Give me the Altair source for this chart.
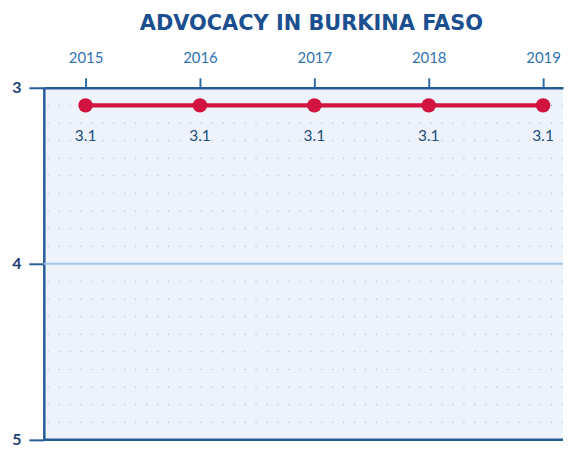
import altair as alt
import pandas as pd

# ---- data ----
years = [2015, 2016, 2017, 2018, 2019]
scores = [3.1, 3.1, 3.1, 3.1, 3.1]
score_labels = ["3.1", "3.1", "3.1", "3.1", "3.1"]
dotted_grid = [3.1, 3.2, 3.3, 3.4, 3.5, 3.6, 3.7, 3.8, 3.9,
               4.1, 4.2, 4.3, 4.4, 4.5, 4.6, 4.7, 4.8, 4.9]
mid_line = [4]
bottom_line = [5]

df = pd.DataFrame({"year": years, "score": scores, "label": score_labels})
grid_df = pd.DataFrame({"score": dotted_grid})
mid_df = pd.DataFrame({"score": mid_line})
bot_df = pd.DataFrame({"score": bottom_line})

DARK = "#275d97"
yscale = alt.Scale(domain=[3, 5], reverse=True, nice=False, zero=False)
xscale = alt.Scale(domain=[2014.635, 2019.174], nice=False, zero=False)

yaxis = alt.Axis(orient="left", tickCount=2, format="d", grid=False,
                 labelFontSize=16, labelFontWeight="bold", labelColor="#1d3f72",
                 labelFont="Lato", labelOverlap=False,
                 tickSize=15, tickWidth=2, tickColor=DARK,
                 domainColor=DARK, domainWidth=2.5, labelPadding=8)
yenc = alt.Y("score:Q", scale=yscale, title=None, axis=yaxis)

grid = alt.Chart(grid_df).mark_rule(strokeDash=[1.2, 9.8], color="#aab6c6", strokeWidth=1).encode(y=yenc)
mid = alt.Chart(mid_df).mark_rule(color="#a3c6e8", strokeWidth=2).encode(y=yenc)
bot = alt.Chart(bot_df).mark_rule(color=DARK, strokeWidth=2.5).encode(y=yenc)

base = alt.Chart(df).encode(
    x=alt.X("year:Q", scale=xscale, title=None,
            axis=alt.Axis(orient="top", values=years, format="d", grid=False,
                          labelFontSize=15, labelColor="#2f73b0", labelFont="Lato",
                          tickSize=10, tickWidth=2, tickColor="#2e6da4",
                          domainColor=DARK, domainWidth=2.5, labelPadding=12)),
    y=yenc,
)

line = base.mark_line(color="#d2123f", strokeWidth=4.5)
pts = base.mark_circle(color="#d2123f", size=210, opacity=1)
txt = base.mark_text(dy=31, fontSize=15.5, color="#1f4e79", font="Lato").encode(text="label:N")

chart = alt.layer(grid, mid, bot, line, pts, txt).properties(
    width=522,
    height=354,
    padding={"left": 3, "top": 4, "right": 0, "bottom": 0},
    title=alt.TitleParams("ADVOCACY IN BURKINA FASO", fontSize=21, font="DejaVu Sans",
                          fontWeight="bold", color="#1b4f8f", anchor="middle",
                          dx=8, offset=17),
).configure_view(fill="#eef3fb", strokeWidth=0)

chart.save("out.html", embed_options={"renderer": "svg", "actions": False})
